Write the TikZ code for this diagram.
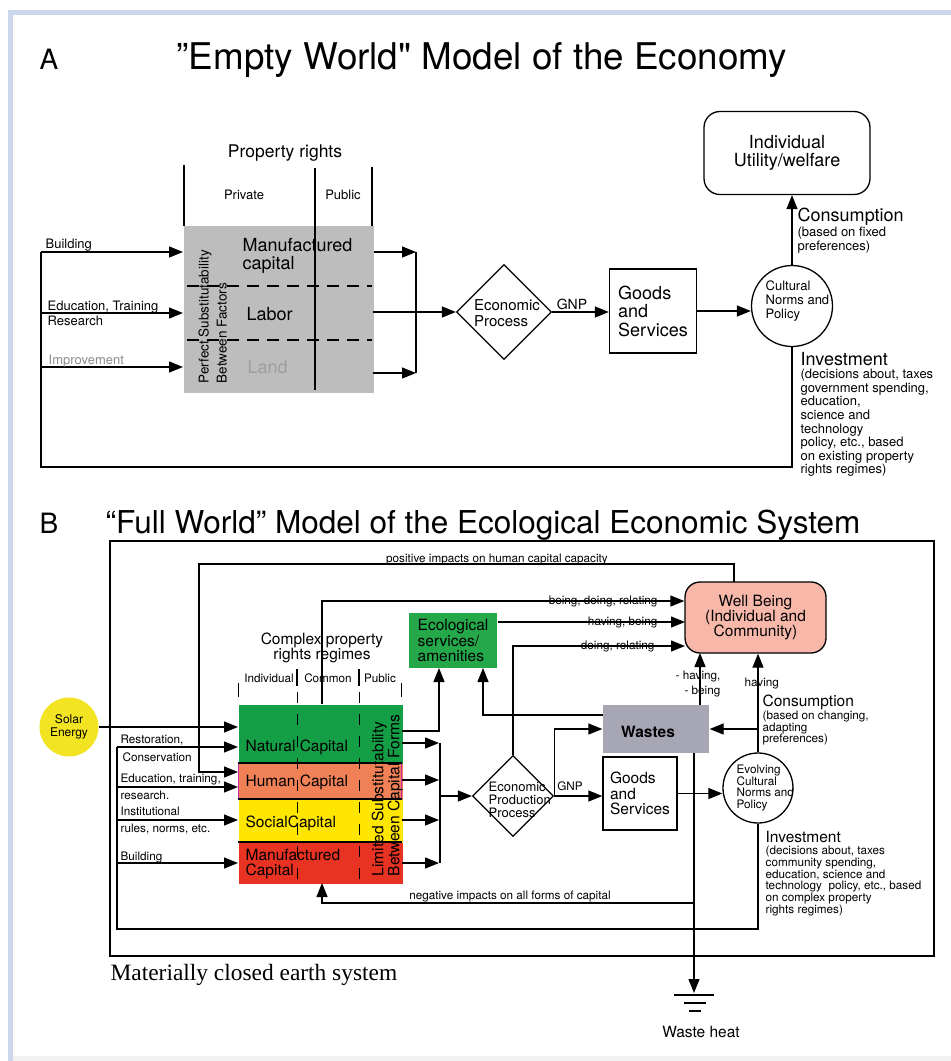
\documentclass[tikz,border=0pt]{standalone}
\usepackage{fontspec}
\setmainfont{TeX Gyre Heros}
\newfontfamily\titlefont[Ligatures=TeXOff]{TeX Gyre Heros}
\newfontfamily\timesfont{Liberation Serif}
\usetikzlibrary{arrows.meta,calc,positioning,shapes.geometric}
\newcommand{\fsz}[2]{\fontsize{#1}{#2}\selectfont}
\definecolor{framebl}{RGB}{204,214,236}
\definecolor{boxgray}{RGB}{189,189,189}
\definecolor{natgreen}{RGB}{20,158,70}
\definecolor{ecogreen}{RGB}{36,168,74}
\definecolor{humorange}{RGB}{240,128,86}
\definecolor{socyellow}{RGB}{255,230,0}
\definecolor{manred}{RGB}{232,50,34}
\definecolor{wastegray}{RGB}{166,166,180}
\definecolor{wellpink}{RGB}{247,184,170}
\definecolor{solaryel}{RGB}{242,228,34}
\definecolor{edgemag}{RGB}{200,40,160}

\begin{document}
\begin{tikzpicture}[x=1pt,y=-1pt,line width=1.3pt,
    every node/.style={inner sep=0pt},
    arr/.style={-{Triangle[length=14pt,width=11pt]}},
    bigA/.style={font=\fsz{18}{18.5}},
    smlA/.style={font=\fsz{13}{13.6}},
    bigB/.style={font=\fsz{15.5}{15.3}},
    smlB/.style={font=\fsz{11.7}{11.7}}]

    \useasboundingbox (0,0) rectangle (951,1061);
    \fill[white] (0,0) rectangle (951,1061);
    \fill[framebl] (8,10) rectangle (951,15); % keret
    \fill[framebl] (8,10) rectangle (13,1061);
    \fill[gray!10] (13,1056) rectangle (951,1061);

    % ---- A: empty world
    \node[font=\fsz{28}{30},anchor=base west] (letA) at (39,69) {A};
    \node[font=\titlefont\fsz{36.8}{40},anchor=base west] (titleA) at (176,69) {”Empty World" Model of the Economy};

    \node[font=\fsz{17.5}{18}] (prights) at (285,153) {Property rights};
    \node[smlA] (private) at (244,195) {Private};
    \node[smlA] (public) at (343,195) {Public};
    \node[fill=boxgray,minimum width=190,minimum height=167,anchor=north west] (factors) at (183,225) {};
    \draw[dash pattern=on 12pt off 8pt] (187,286) -- (372,286);
    \draw[dash pattern=on 12pt off 8pt] (187,340) -- (372,340);
    \node[bigA,align=left,anchor=west] (manufA) at (242,256) {Manufactured\\capital};
    \node[bigA,anchor=west] (labor) at (246,314) {Labor};
    \node[bigA,anchor=west,text=black!38] (land) at (247,367) {Land};
    \node[font=\fsz{13.5}{18},rotate=90,align=left,anchor=north west] (perfect) at (198,384) {Perfect Substitutability\\Between Factors};
    \draw (184,165) -- (184,226);
    \draw (315,168) -- (315,390);
    \draw (372,167) -- (372,226);

    \coordinate (busA) at (41,252);
    \coordinate (loopA) at (41,467);
    \draw[arr] (busA) -- (busA -| factors.west);
    \draw[arr] (41,313) -- (183,313);
    \draw[arr] (41,367) -- (183,367);
    \node[smlA,anchor=base west] (building) at (45,248) {Building};
    \node[smlA,anchor=base west] (educA) at (47,310) {Education, Training};
    \node[smlA,anchor=base west] (researchA) at (47,325) {Research};
    \node[smlA,anchor=base west,text=black!45] (improve) at (48,364) {Improvement};

    \coordinate (joinA) at (416,252);
    \draw[arr] (factors.east |- joinA) -- (joinA);
    \draw[arr] (373,373) -- (416,373);
    \draw (joinA) -- (416,373);
    \node[diamond,draw,minimum width=95,minimum height=95] (econA) at (504,312) {};
    \node[font=\fsz{15}{15.5},align=left] (econAtxt) at (507,313) {Economic\\Process};
    \draw[arr] (373,312) -- (econA.west);

    \node[draw,minimum width=87,minimum height=84,bigA,align=left] (goodsA) at (653,311) {Goods\\and\\Services};
    \draw[arr] (econA.east) -- (goodsA.west |- econA.east);
    \node[font=\fsz{14}{14}] (gnpA) at (572,304) {GNP};
    \node[draw,circle,minimum size=81] (culture) at (792,306) {};
    \node[smlA,align=left,anchor=west] (culturetxt) at (765,301) {Cultural\\Norms and\\Policy};
    \draw[arr] (goodsA.east) -- (goodsA.east -| culture.west);
    \node[draw,rounded corners=16pt,minimum width=166,minimum height=83,bigA,align=center] (utility) at (787,153) {Individual\\Utility/welfare};
    \draw[arr] (culture.north) -- (culture.north |- utility.south);
    \node[bigA,anchor=west] (consA) at (797,217) {Consumption};
    \node[smlA,align=left,anchor=west] (consAtxt) at (797,240) {(based on fixed\\preferences)};
    \node[bigA,anchor=west] (investA) at (800,359) {Investment};
    \node[smlA,align=left,anchor=west] (investAtxt) at (800,423) {(decisions about, taxes\\government spending,\\education,\\science and\\technology\\policy, etc., based\\on existing property\\rights regimes)};
    \draw (culture.south) |- (loopA) -- (busA);

    % ---- B: full world
    \node[font=\fsz{28}{30},anchor=base west] (letB) at (39,533) {B};
    \node[font=\fsz{31.5}{34},anchor=base west] (titleB) at (105,533) {“Full World” Model of the Ecological Economic System};
    \draw[line width=2.6pt] (110,541) rectangle (934,956); % earth
    \node[font=\timesfont\fsz{23.4}{24},anchor=west] (closed) at (110,975) {Materially closed earth system};

    \node[fill=natgreen,minimum width=164,minimum height=59,anchor=north west] (natural) at (238,704) {};
    \node[fill=humorange,minimum width=164,minimum height=36,anchor=north west] (human) at (238,763) {};
    \node[fill=socyellow,minimum width=164,minimum height=43,anchor=north west] (social) at (238,799) {};
    \node[fill=manred,minimum width=164,minimum height=41,anchor=north west] (manufB) at (238,842) {};
    \draw[edgemag,line width=1pt] (238.5,763) -- (238.5,799) (401.5,763) -- (401.5,799);
    \foreach \y in {763,799,842} \draw[line width=2.6pt] (238,\y) -- (402,\y);
    \foreach \x in {297,359} {
        \draw (\x,669) -- (\x,686);
        \draw[line width=1pt,dash pattern=on 11pt off 11pt] (\x,692) -- (\x,883);
    }
    \draw[line width=1pt] (238.5,683) -- (238.5,697) (401,683) -- (401,697);

    \node[smlB] (indiv) at (269,678) {Individual};
    \node[smlB] (common) at (328,678) {Common};
    \node[smlB] (publicB) at (380,678) {Public};
    \node[bigB,align=center] (complex) at (322,648) {Complex property\\rights regimes};
    \node[bigB,anchor=west] (natxt) at (245,747) {Natural Capital};
    \node[bigB,anchor=west] (humtxt) at (245,782) {Human Capital};
    \node[bigB,anchor=west] (soctxt) at (245,823) {SocialCapital};
    \node[bigB,align=left,anchor=west] (mantxt) at (245,864) {Manufactured\\Capital};
    \node[font=\fsz{15.6}{16},rotate=90,align=left,anchor=north west] (limited) at (371,877) {Limited Substitutability\\Between Capital Forms};

    \node[circle,fill=solaryel,minimum size=59,font=\fsz{12}{12.5},align=center] (solar) at (69,727) {Solar\\Energy};
    \draw[arr] (solar.east) -- (solar.east -| natural.west);
    \coordinate (busB) at (117,747);
    \coordinate (loopB) at (117,929);
    \draw[arr] (busB) -- (busB -| natural.west);
    \draw[arr] (117,787) -- (238,787);
    \draw[arr] (117,820) -- (238,820);
    \draw[arr] (117,863) -- (238,863);
    \draw[arr] (734,582) |- (199,564) |- (238,772); % positive impacts
    \node[smlB,anchor=base] (posimp) at (497,562) {positive impacts on human capital capacity};
    \node[smlB,anchor=base west] (restor) at (120,743) {Restoration,};
    \node[smlB,anchor=base west] (conserv) at (122,761) {Conservation};
    \node[smlB,anchor=base west] (educB) at (120,782) {Education, training,};
    \node[smlB,anchor=base west] (researchB) at (120,799) {research.};
    \node[smlB,anchor=base west] (instit) at (120,815) {Institutional};
    \node[smlB,anchor=base west] (rules) at (120,832) {rules, norms, etc.};
    \node[smlB,anchor=base west] (buildB) at (120,860) {Building};

    \node[fill=ecogreen,minimum width=88,minimum height=55,bigB,align=left] (ecoserv) at (453,640.5) {Ecological\\services/\\amenities};
    \draw[arr] (402,731) -| (439,668);
    \foreach \y in {743,780,820,863} \draw[arr] (402,\y) -- (439,\y);
    \draw (440,743) -- (440,863);
    \node[diamond,draw,minimum width=81,minimum height=81] (econB) at (513,796) {};
    \node[font=\fsz{13}{13},align=left,anchor=west] (econBtxt) at (488,800) {Economic\\Production\\Process};
    \draw[arr] (440,796) -- (econB.west);

    \node[draw,fill=wellpink,rounded corners=15pt,minimum width=141,minimum height=71,bigB,align=center] (wellbeing) at (755.5,617.5) {Well Being\\(Individual and\\Community)};
    \draw[arr] (322,704) |- (wellbeing.west |- 322,601); % natural -> well being
    \draw[arr] (ecoserv.east |- 497,622) -- (685,622);
    \draw[arr] (econB.north) |- (685,646);
    \node[smlB,anchor=base east] (bdr) at (658,604) {being, doing, relating};
    \node[smlB,anchor=base east] (hb) at (658,625) {having, being};
    \node[smlB,anchor=base east] (dr) at (655,649) {doing, relating};

    \node[fill=wastegray,minimum width=106,minimum height=48] (wastes) at (656,729) {};
    \node[font=\bfseries\fsz{15.5}{16}] (wastestxt) at (648,732) {Wastes};
    \draw[arr] (econB.east) |- (wastes.west);
    \draw[arr] (603,715) -| (483,668);

    \node[draw,minimum width=74,minimum height=73,bigB,align=left] (goodsB) at (640,793.5) {Goods\\and\\Services};
    \draw[arr] (econB.east) -- (goodsB.west |- econB.east);
    \node[smlB,anchor=base] (gnpB) at (570,790) {GNP};
    \node[draw,circle,minimum size=70] (evolving) at (758,788) {};
    \node[smlB,align=left,anchor=west] (evoltxt) at (736,788) {Evolving\\Cultural\\Norms and\\Policy};
    \draw[arr] (goodsB.east) -- (goodsB.east -| evolving.west);

    \draw[arr] (evolving.north) -- (evolving.north |- wellbeing.south);
    \draw[arr] (evolving.north |- wastes.east) -- (wastes.east);
    \draw[arr] (700,705) -- (700,653);
    \node[smlB,anchor=base west] (havingC) at (744,686) {having};
    \node[font=\fsz{11.7}{15},align=right,anchor=east] (havbe) at (721,684) {- having,\\- being};
    \node[bigB,anchor=west] (consB) at (762,702) {Consumption};
    \node[smlB,align=left,anchor=west] (consBtxt) at (762,728) {(based on changing,\\adapting\\preferences)};
    \node[bigB,anchor=west] (investB) at (765,837) {Investment};
    \node[smlB,align=left,anchor=west] (investBtxt) at (765,881) {(decisions about, taxes\\community spending,\\education, science and\\technology~ policy, etc., based\\on complex property\\rights regimes)};
    \draw (evolving.south) |- (loopB) -- (busB);

    \draw[arr] (694,903) -| (322,883); % negative impacts
    \node[smlB,anchor=base] (negimp) at (510,899) {negative impacts on all forms of capital};
    \draw[arr] (694,753) -- (694,993);
    \draw (674,995) -- (714,995) (684,1003) -- (706,1003) (689,1011) -- (701,1011);
    \node[bigB] (wheat) at (701,1032) {Waste heat};

\end{tikzpicture}
\end{document}
